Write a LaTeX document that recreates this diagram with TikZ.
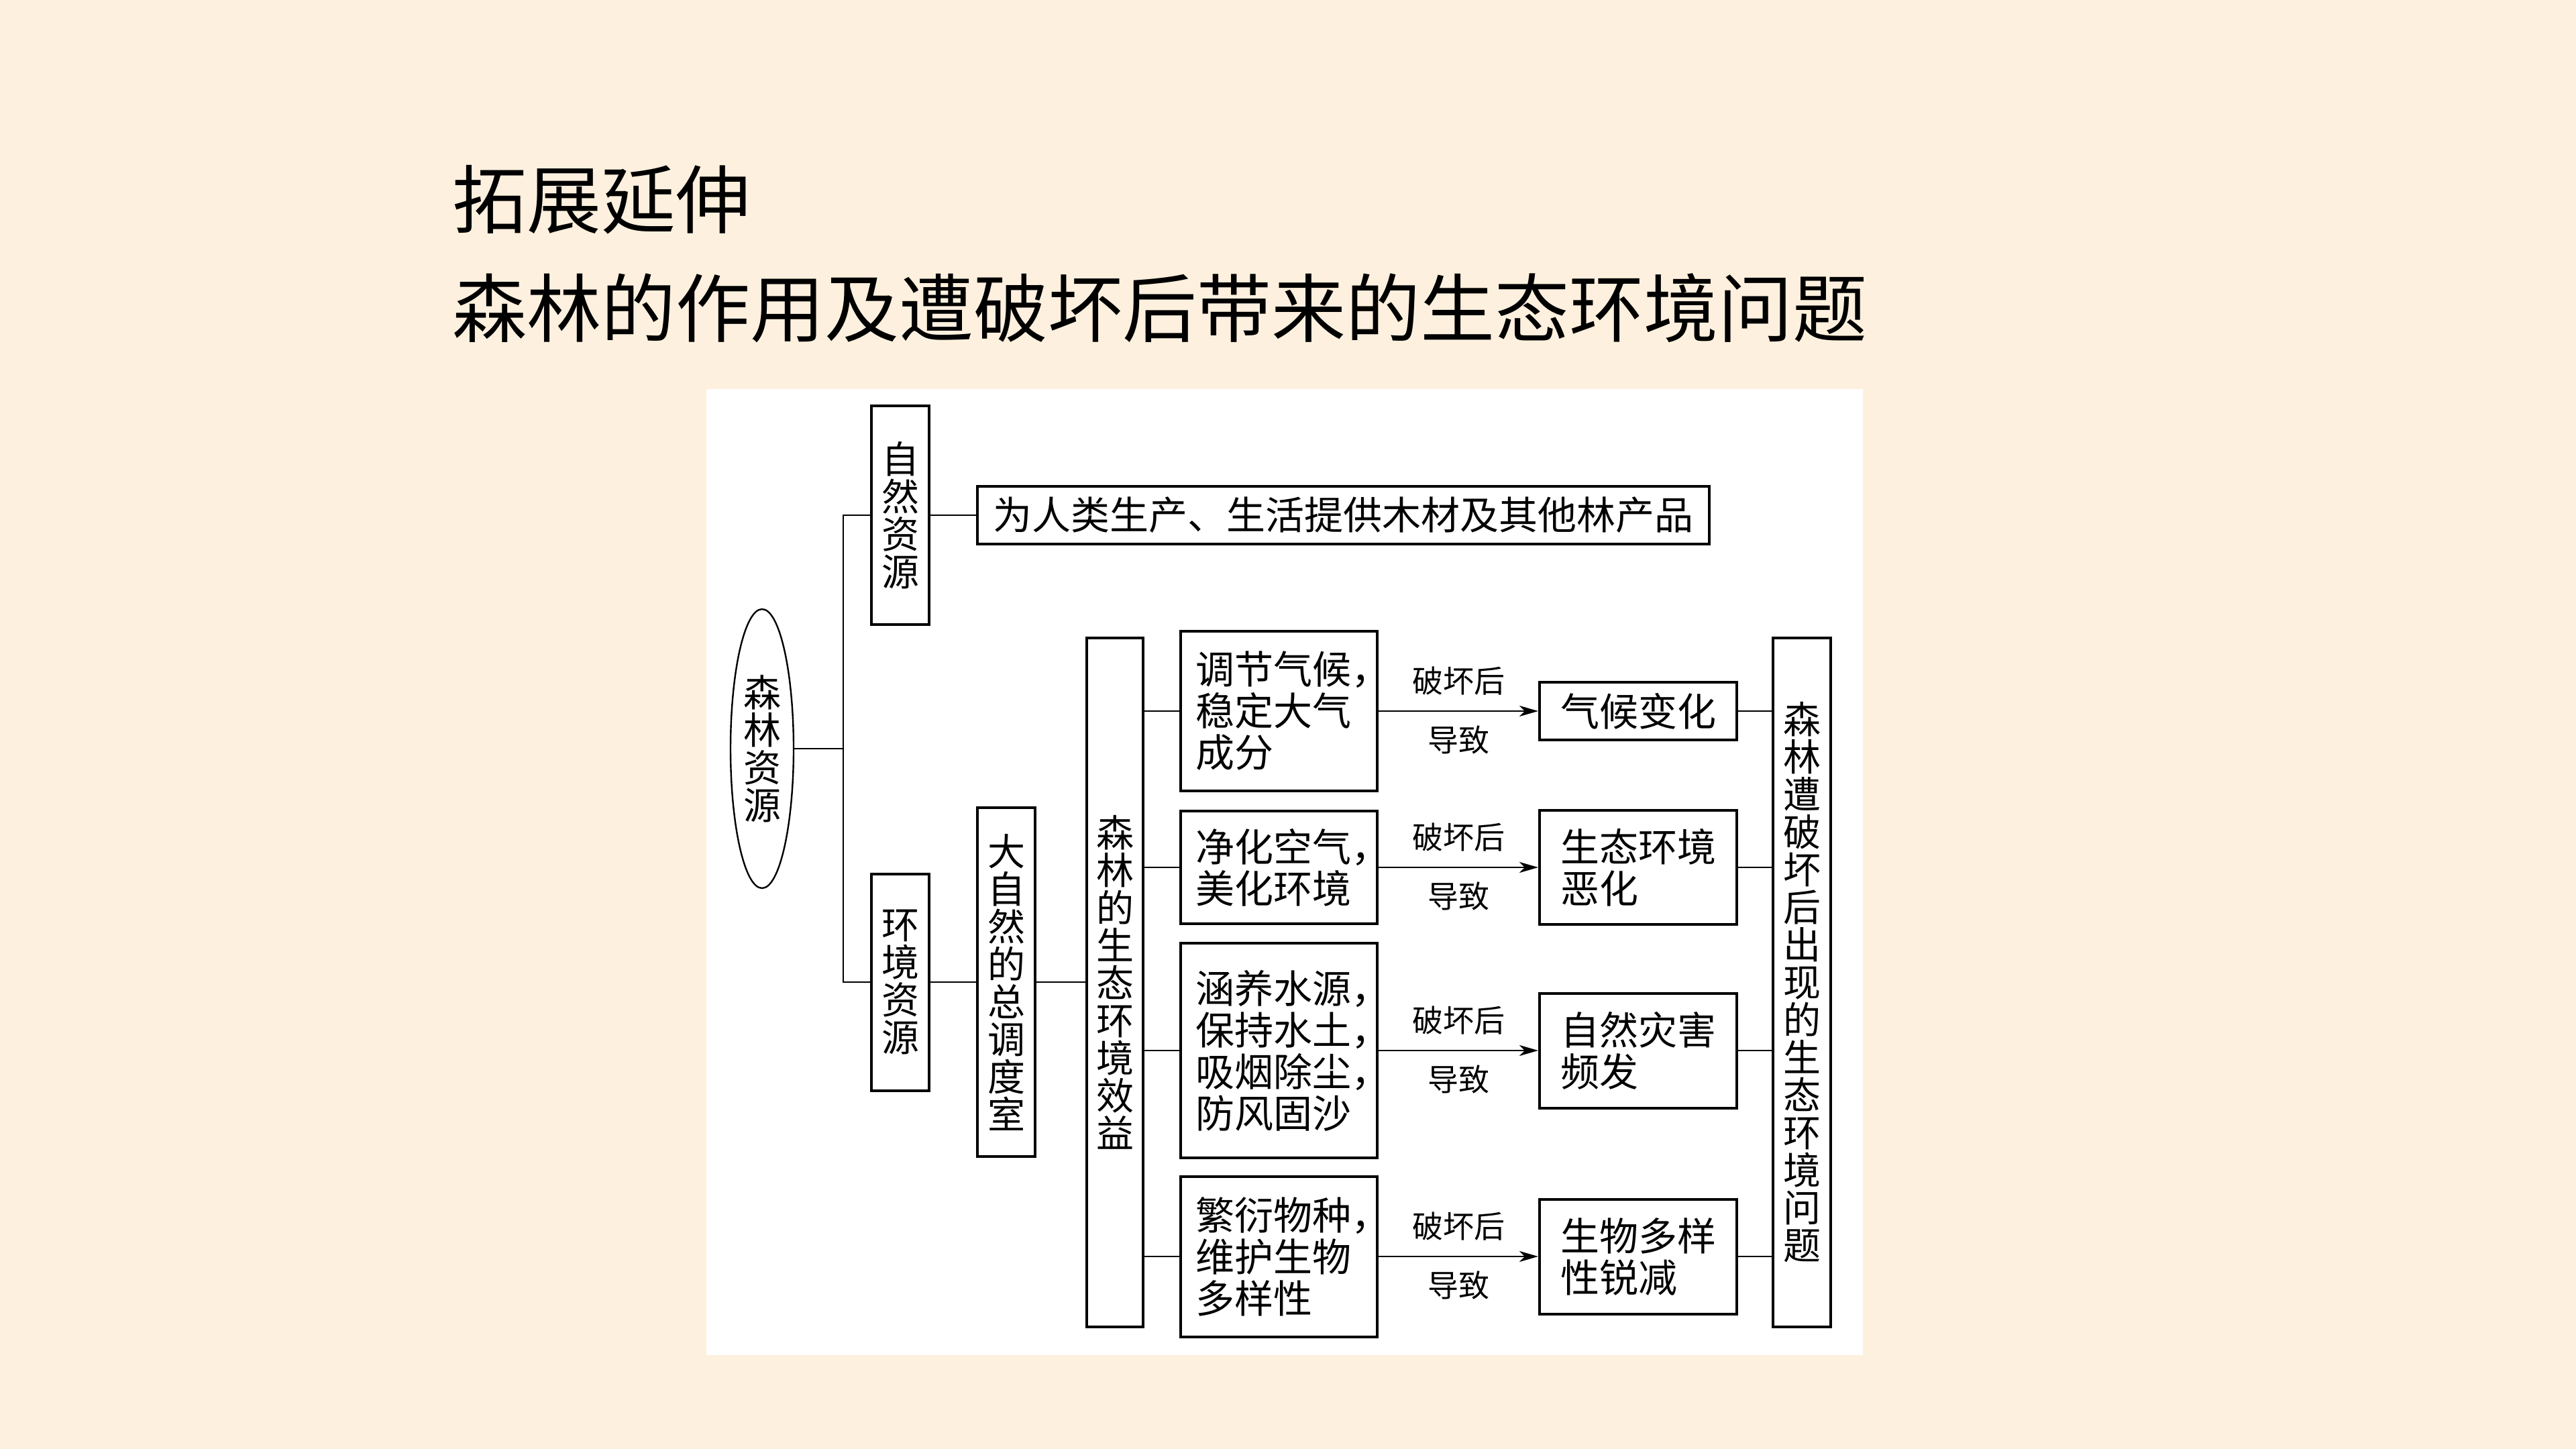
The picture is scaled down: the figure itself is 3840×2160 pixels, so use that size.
\documentclass[tikz,border=0pt]{standalone}
\usepackage{fontspec}
\setmainfont{Noto Sans CJK SC}
\usetikzlibrary{shapes.geometric,arrows.meta}
\definecolor{bgcream}{RGB}{253,240,222}
\tikzset{every picture/.style={line width=0.75pt}}

\begin{document}
\begin{tikzpicture}[x=0.25pt,y=0.25pt,yscale=-1,xscale=1,
  kuang/.style={draw,line width=1pt,inner sep=0pt,align=center,font=\fontsize{14pt}{14pt}\selectfont},
  shu/.style={kuang,minimum width=21.5pt},
  heng/.style={kuang,align=left,font=\fontsize{14.5pt}{15.5pt}\selectfont},
  lian/.style={line width=0.7pt},
  jian/.style={lian,-{Stealth[length=7pt,width=4pt,inset=2pt]}},
  biao/.style={inner sep=0pt,font=\fontsize{11.5pt}{11.5pt}\selectfont},
  timu/.style={anchor=west,inner sep=0pt,font=\fontsize{27.75pt}{27.75pt}\selectfont}]
%set page 3840 x 2160
\fill[bgcream] (0,0) rectangle (3840,2160);
\useasboundingbox (0,0) rectangle (3840,2160);

%Shape: Rectangle (white panel)
\fill[white] (1053,580) rectangle (2777,2020);

% Text Node
\node[timu] (biaoti) at (673,298) {拓展延伸};
% Text Node
\node[timu] (zhuti) at (673,459) {森林的作用及遭破坏后带来的生态环境问题};

%Shape: Ellipse
\node[ellipse,draw,line width=0.6pt,minimum width=23.5pt,minimum height=104pt,inner sep=0pt,align=center,font=\fontsize{14pt}{14pt}\selectfont] (senlin) at (1136,1116) {森\\林\\资\\源};
\coordinate (jd) at (1257,1116);

% Text Node
\node[shu,minimum height=81.25pt] (ziran) at (1342,768) {自\\然\\资\\源};
% Text Node
\node[shu,minimum height=80.75pt] (huanjing) at (1342,1464) {环\\境\\资\\源};
% Text Node
\node[kuang,minimum width=272.75pt,minimum height=21.25pt,font=\fontsize{14.5pt}{14.5pt}\selectfont] (mucai) at (2002.5,768) {为人类生产、生活提供木材及其他林产品};
% Text Node
\node[shu,minimum height=130pt] (diaodu) at (1500,1464) {大\\自\\然\\的\\总\\调\\度\\室};
% Text Node
\node[shu,minimum width=21pt,minimum height=256.75pt] (xiaoyi) at (1662,1464) {森\\林\\的\\生\\态\\环\\境\\效\\益};

% Text Node
\node[heng,minimum width=73.25pt,text width=62pt,minimum height=59.5pt] (qihou) at (1906.5,1060) {调节气候\rlap{，}\\稳定大气\\成分};
% Text Node
\node[heng,minimum width=73.25pt,text width=62pt,minimum height=42pt] (jinghua) at (1906.5,1293) {净化空气\rlap{，}\\美化环境};
% Text Node
\node[heng,minimum width=73.25pt,text width=62pt,minimum height=80pt] (hanyang) at (1906.5,1566) {涵养水源\rlap{，}\\保持水土\rlap{，}\\吸烟除尘\rlap{，}\\防风固沙};
% Text Node
\node[heng,minimum width=73.25pt,text width=62pt,minimum height=59.75pt] (fanyan) at (1906.5,1873) {繁衍物种\rlap{，}\\维护生物\\多样性};

% Text Node
\node[kuang,minimum width=73.5pt,minimum height=21.5pt,font=\fontsize{14.5pt}{14.5pt}\selectfont] (bianhua) at (2442,1060) {气候变化};
% Text Node
\node[heng,minimum width=73.5pt,minimum height=42.5pt] (ehua) at (2442,1293) {生态环境\\恶化};
% Text Node
\node[heng,minimum width=73.5pt,minimum height=42.75pt] (zaihai) at (2442,1566) {自然灾害\\频发};
% Text Node
\node[heng,minimum width=73.5pt,minimum height=42.75pt] (ruijian) at (2442,1873) {生物多样\\性锐减};

% Text Node
\node[shu,minimum height=256.75pt] (wenti) at (2686,1464) {森\\林\\遭\\破\\坏\\后\\出\\现\\的\\生\\态\\环\\境\\问\\题};

%Straight Lines
\draw[lian] (senlin.east) -- (jd);
\draw[lian] (ziran.west) -| (jd) |- (huanjing.west);
\draw[lian] (ziran.east) -- (mucai.west);
\draw[lian] (huanjing.east) -- (diaodu.west);
\draw[lian] (diaodu.east) -- (xiaoyi.west);
\draw[lian] (xiaoyi.east |- qihou.west) -- (qihou.west);
\draw[lian] (xiaoyi.east |- jinghua.west) -- (jinghua.west);
\draw[lian] (xiaoyi.east |- hanyang.west) -- (hanyang.west);
\draw[lian] (xiaoyi.east |- fanyan.west) -- (fanyan.west);

%Arrows
\draw[jian] (qihou) -- node[biao,above=5.5pt] {破坏后} node[biao,below=5pt] {导致} (bianhua);
\draw[jian] (jinghua) -- node[biao,above=5.5pt] {破坏后} node[biao,below=5pt] {导致} (ehua);
\draw[jian] (hanyang) -- node[biao,above=5.5pt] {破坏后} node[biao,below=5pt] {导致} (zaihai);
\draw[jian] (fanyan) -- node[biao,above=5.5pt] {破坏后} node[biao,below=5pt] {导致} (ruijian);

%Straight Lines
\draw[lian] (bianhua.east) -- (bianhua.east -| wenti.west);
\draw[lian] (ehua.east) -- (ehua.east -| wenti.west);
\draw[lian] (zaihai.east) -- (zaihai.east -| wenti.west);
\draw[lian] (ruijian.east) -- (ruijian.east -| wenti.west);

\end{tikzpicture}
\end{document}
